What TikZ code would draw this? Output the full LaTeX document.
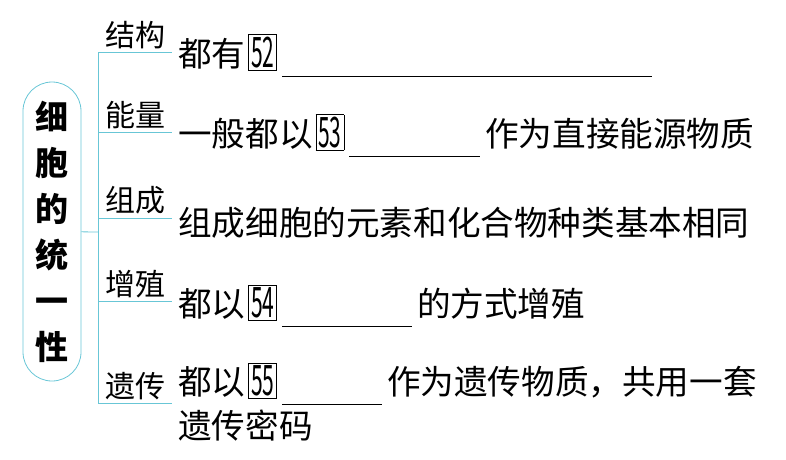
\documentclass[tikz,border=0pt]{standalone}
\usepackage{fontspec}
\usepackage{graphicx}
\newfontfamily\cjk{Noto Sans CJK SC}
\definecolor{qinglan}{RGB}{104,198,214}
\newcommand{\hao}[1]{\hspace{3pt}\raisebox{-1pt}{\setlength{\fboxsep}{2pt}\setlength{\fboxrule}{0.7pt}\fbox{\scalebox{0.5}[1]{\fontsize{42}{42}\selectfont #1}}}}
\newcommand{\kong}[1]{\hspace{5pt}\rule[-10pt]{#1}{0.9pt}\hspace{5pt}}

\begin{document}
\begin{tikzpicture}[x=1pt, y=-1pt, font=\cjk,
    fen/.style={qinglan, line width=0.8pt},
    biao/.style={font=\cjk\fontsize{30}{30}\selectfont, above, inner sep=3pt, text=black},
    hang/.style={font=\cjk\fontsize{33.6}{33.6}\selectfont, anchor=base west, inner sep=0pt}]
    \useasboundingbox (0,0) rectangle (786,459);

    \node[draw=qinglan, line width=0.8pt, rounded corners=29pt, minimum width=58pt,
          minimum height=299pt, align=center,
          font=\cjk\bfseries\fontsize{33}{46}\selectfont] (tong) at (52,231.5)
          {细\\胞\\的\\统\\一\\性};

    \coordinate (j)  at (98,232);
    \coordinate (s1) at (98,52);
    \coordinate (s2) at (98,132);
    \coordinate (s3) at (98,218);
    \coordinate (s4) at (98,301);
    \coordinate (s5) at (98,403);
    \coordinate (e1) at (172,52);
    \coordinate (e2) at (172,132);
    \coordinate (e3) at (172,218);
    \coordinate (e4) at (172,301);
    \coordinate (e5) at (172,403);

    \draw[fen] (tong) -- (j);
    \draw[fen] (s1) -- (s5);
    \draw[fen] (s1) -- node[biao] {结构} (e1);
    \draw[fen] (s2) -- node[biao] {能量} (e2);
    \draw[fen] (s3) -- node[biao] {组成} (e3);
    \draw[fen] (s4) -- node[biao] {增殖} (e4);
    \draw[fen] (s5) -- node[biao] {遗传} (e5);

    \node[hang] (d1)  at (178,66.5)  {都有\hao{52}\kong{370pt}};
    \node[hang] (d2)  at (178,146.5) {一般都以\hao{53}\kong{131pt}作为直接能源物质};
    \node[hang] (d3)  at (178,235)   {组成细胞的元素和化合物种类基本相同};
    \node[hang] (d4)  at (178,316.5) {都以\hao{54}\kong{130pt}的方式增殖};
    \node[hang] (d5)  at (178,394.5) {都以\hao{55}\kong{100pt}作为遗传物质，共用一套};
    \node[hang] (d5b) at (178,438.5) {遗传密码};
\end{tikzpicture}
\end{document}
